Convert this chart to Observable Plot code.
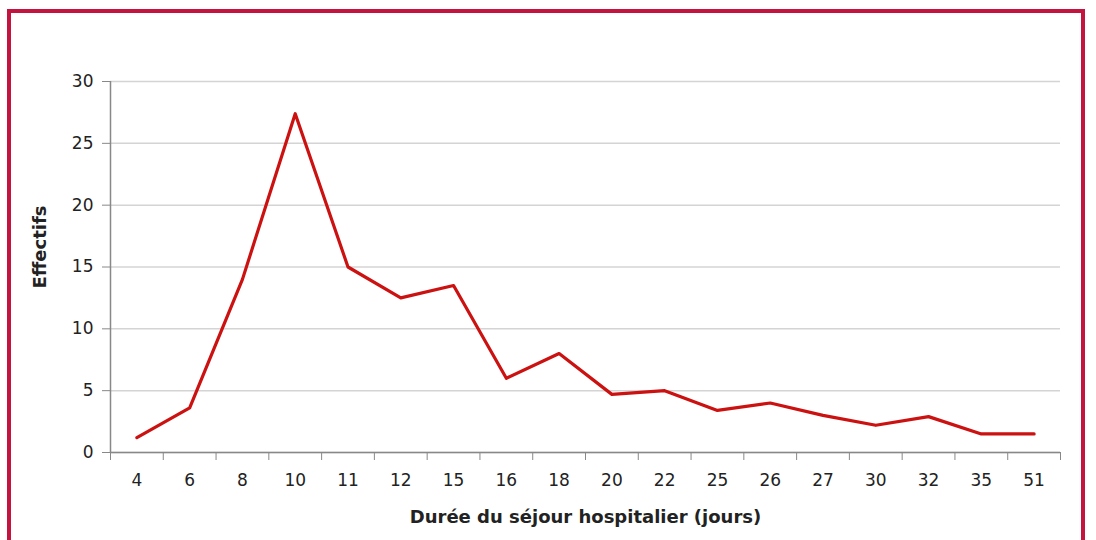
<!DOCTYPE html>
<html>
<head>
<meta charset="utf-8">
<script src="https://cdn.jsdelivr.net/npm/d3@7"></script>
<script src="https://cdn.jsdelivr.net/npm/@observablehq/plot@0.6"></script>
<style>
  html, body { margin: 0; padding: 0; background: #fff; }
  #wrap { position: relative; width: 1096px; height: 540px; overflow: hidden; }
  #frame { position: absolute; left: 7px; top: 9px; width: 1078px; height: 600px; border: 4px solid #c2143e; box-sizing: border-box; }
  #chart { position: absolute; left: 0; top: 0; }
  svg { font-family: "DejaVu Sans", Verdana, sans-serif; }
</style>
</head>
<body>
<div id="wrap"><div id="frame"></div><div id="chart"></div></div>
<script>
const categories = ["4","6","8","10","11","12","15","16","18","20","22","25","26","27","30","32","35","51"];
const effectifs = [1.2, 3.6, 14, 27.4, 15, 12.5, 13.5, 6, 8, 4.7, 5, 3.4, 4, 3, 2.2, 2.9, 1.5, 1.5];
const yTicks = [0, 5, 10, 15, 20, 25, 30];
const xTitle = "Durée du séjour hospitalier (jours)";
const yTitle = "Effectifs";

const data = categories.map((c, i) => ({idx: i + 0.5, label: c, value: effectifs[i]}));
const n = categories.length;
const boundaries = d3.range(0, n + 1);
const centers = categories.map((c, i) => i + 0.5);

const chart = Plot.plot({
  width: 1096,
  height: 540,
  marginLeft: 110,
  marginRight: 36,
  marginTop: 81,
  marginBottom: 88,
  style: {fontSize: "17px", color: "#222", background: "transparent"},
  x: {domain: [0, n], axis: null},
  y: {domain: [0, 30], axis: null},
  marks: [
    Plot.gridY(yTicks, {stroke: "#d4d4d4", strokeOpacity: 1, strokeWidth: 1.5}),
    Plot.axisY(yTicks, {tickSize: 8, tickPadding: 9, stroke: "#888", fill: "#222", fontSize: 17, tickFormat: d => d, label: null}),
    Plot.ruleX([0], {stroke: "#888", strokeWidth: 1.5}),
    Plot.ruleY([0], {stroke: "#888", strokeWidth: 1.5}),
    Plot.axisX(boundaries, {tickSize: 8, stroke: "#888", tickFormat: () => "", label: null}),
    Plot.axisX(centers, {tickSize: 0, tickPadding: 21, fill: "#222", fontSize: 17, tickFormat: d => categories[Math.round(d - 0.5)], label: null}),
    Plot.line(data, {x: "idx", y: "value", stroke: "#cc1111", strokeWidth: 3.2}),
    Plot.text([xTitle], {frameAnchor: "bottom", dy: 70, fontWeight: "bold", fontSize: 18, fill: "#222"}),
    Plot.text([yTitle], {frameAnchor: "left", textAnchor: "middle", dx: -70, dy: -20, rotate: -90, fontWeight: "bold", fontSize: 18, fill: "#222"})
  ]
});
document.getElementById("chart").appendChild(chart);
</script>
</body>
</html>
